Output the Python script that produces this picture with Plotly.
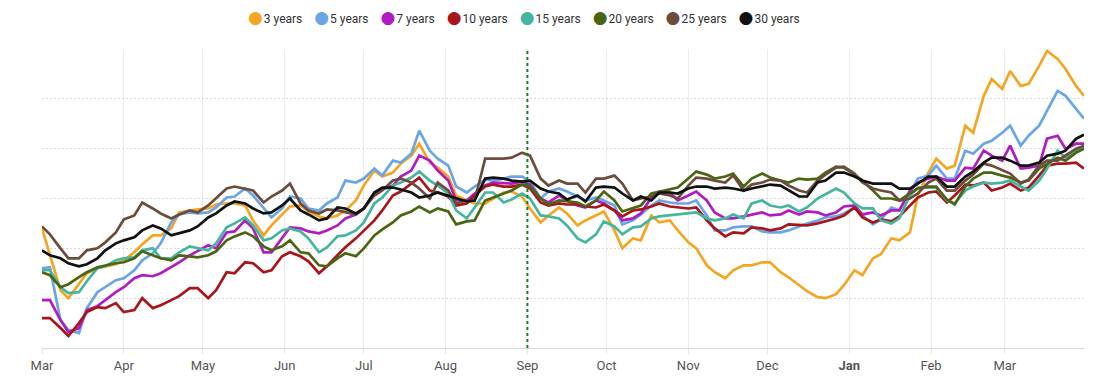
import pandas as pd
import plotly.graph_objects as go

# ---- data: readings twice a week (Mon / Thu), arbitrary yield units ----
mondays = pd.date_range("2021-03-01", periods=57, freq="7D")
dates = sorted(list(mondays) + list(mondays + pd.Timedelta(days=3)))

y3 = [2.40,1.86, 1.16,1.00, 1.30,1.50, 1.60,1.64, 1.68,1.76, 1.92,2.08, 2.26,2.26, 2.40,2.72, 2.76,2.78, 2.80,2.88,
      2.90,2.90, 2.86,2.56, 2.26,2.46, 2.68,2.84, 2.86,2.74, 2.64,2.60, 2.66,2.76, 2.96,3.26, 3.56,3.44, 3.52,3.70,
      3.86,4.10, 3.72,3.62, 3.44,3.06, 2.96,2.90, 2.90,3.00, 3.12,3.14, 3.04,2.80, 2.52,2.66, 2.82,2.70, 2.46,2.56,
      2.66,2.74, 2.36,2.00, 2.20,2.16, 2.66,2.52, 2.56,2.36, 2.12,2.00, 1.66,1.52, 1.40,1.56, 1.66,1.66, 1.72,1.72,
      1.52,1.42, 1.26,1.14, 1.02,1.00, 1.08,1.26, 1.56,1.46, 1.80,1.88, 2.20,2.16, 2.32,3.06, 3.52,3.80, 3.60,3.66,
      4.46,4.32, 5.06,5.40, 5.20,5.56, 5.26,5.30, 5.66,5.96, 5.80,5.60, 5.26,5.06]
y5 = [1.60,1.62, 0.56,0.36, 0.30,0.80, 1.12,1.22, 1.36,1.40, 1.56,1.76, 1.90,2.10, 2.52,2.68, 2.72,2.70, 2.72,2.82,
      3.02,3.04, 3.20,3.06, 2.80,2.62, 2.80,3.04, 3.00,2.80, 2.76,2.90, 3.02,3.36, 3.32,3.40, 3.60,3.46, 3.76,3.72,
      3.90,4.36, 3.96,3.80, 3.66,3.24, 3.12,3.24, 3.38,3.36, 3.40,3.44, 3.44,3.34, 3.00,3.14, 3.20,3.14, 3.04,2.96,
      3.02,2.96, 2.86,2.48, 2.56,2.68, 2.86,2.96, 2.92,2.90, 2.90,2.96, 2.66,2.36, 2.36,2.42, 2.44,2.44, 2.34,2.32,
      2.32,2.36, 2.44,2.50, 2.56,2.62, 2.64,2.70, 2.82,2.66, 2.48,2.58, 2.82,2.76, 3.12,3.40, 3.46,3.66, 3.40,3.40,
      3.96,3.90, 4.10,4.16, 4.32,4.46, 4.06,4.26, 4.46,4.76, 5.16,5.06, 4.80,4.60]
y7 = [0.96,0.96, 0.56,0.32, 0.40,0.76, 0.84,0.96, 1.12,1.22, 1.40,1.46, 1.44,1.50, 1.62,1.72, 1.86,1.94, 2.06,2.00,
      2.32,2.34, 2.56,2.40, 1.92,1.92, 2.20,2.42, 2.40,2.34, 2.30,2.36, 2.46,2.60, 2.68,2.80, 3.12,3.18, 3.26,3.44,
      3.56,3.86, 3.76,3.56, 3.36,2.96, 2.96,3.10, 3.26,3.32, 3.30,3.30, 3.34,3.28, 3.00,2.92, 3.06,2.96, 2.86,2.82,
      2.96,2.90, 2.76,2.56, 2.60,2.70, 3.02,3.14, 3.12,2.96, 3.06,3.14, 2.96,2.72, 2.60,2.60, 2.64,2.68, 2.72,2.66,
      2.68,2.76, 2.68,2.74, 2.72,2.66, 2.72,2.84, 2.86,2.68, 2.72,2.66, 2.76,2.76, 3.16,3.32, 3.40,3.44, 3.36,3.36,
      3.62,3.60, 3.96,3.86, 3.76,4.06, 3.60,3.62, 3.66,4.20, 4.26,4.00, 4.10,4.10]
y10 = [0.60,0.60, 0.40,0.24, 0.50,0.72, 0.82,0.80, 0.90,0.72, 0.76,1.00, 0.80,0.86, 0.96,1.04, 1.20,1.20, 1.00,1.16,
       1.52,1.50, 1.72,1.70, 1.52,1.56, 1.84,1.92, 1.84,1.74, 1.50,1.64, 1.86,2.02, 2.20,2.36, 2.56,2.76, 3.06,3.14,
       3.30,3.42, 3.16,3.12, 3.04,2.86, 2.90,3.06, 3.24,3.28, 3.24,3.24, 3.28,3.20, 2.92,2.86, 2.90,2.88, 2.88,2.84,
       2.82,2.88, 2.76,2.64, 2.76,2.78, 2.84,2.90, 2.84,2.82, 2.80,2.82, 2.56,2.40, 2.24,2.32, 2.30,2.42, 2.40,2.36,
       2.40,2.48, 2.46,2.46, 2.50,2.54, 2.60,2.66, 2.82,2.62, 2.52,2.58, 2.54,2.64, 2.86,3.02, 3.12,3.14, 2.92,3.06,
       3.28,3.26, 3.32,3.16, 3.22,3.30, 3.16,3.22, 3.46,3.66, 3.70,3.70, 3.72,3.60]
y15 = [1.56,1.56, 1.22,1.10, 1.12,1.34, 1.60,1.64, 1.76,1.80, 1.82,1.96, 2.00,1.80, 1.80,1.92, 2.04,2.00, 1.96,2.10,
       2.42,2.50, 2.62,2.46, 2.16,2.20, 2.36,2.40, 2.34,2.20, 1.92,2.02, 2.24,2.26, 2.36,2.52, 2.90,3.02, 3.26,3.32,
       3.42,3.54, 3.36,3.26, 3.10,2.76, 2.60,2.82, 3.12,3.12, 2.92,2.98, 3.10,3.00, 2.66,2.64, 2.60,2.46, 2.20,2.12,
       2.28,2.54, 2.44,2.28, 2.42,2.44, 2.60,2.64, 2.66,2.68, 2.70,2.72, 2.60,2.56, 2.60,2.68, 2.60,2.90, 2.96,2.86,
       2.82,2.86, 2.74,2.82, 3.00,3.08, 3.20,3.12, 2.90,2.80, 2.80,2.56, 2.50,2.60, 3.06,3.22, 3.22,3.22, 2.96,2.90,
       3.16,3.24, 3.32,3.30, 3.32,3.36, 3.24,3.16, 3.36,3.60, 3.96,3.82, 3.96,4.02]
y20 = [1.52,1.46, 1.22,1.28, 1.42,1.52, 1.62,1.66, 1.70,1.72, 1.80,1.94, 1.86,1.80, 1.76,1.86, 1.84,1.82, 1.86,1.94,
       2.16,2.24, 2.32,2.24, 2.04,1.96, 2.04,2.16, 1.92,1.90, 1.66,1.64, 1.80,1.90, 1.84,2.00, 2.26,2.38, 2.52,2.66,
       2.74,2.84, 2.72,2.80, 2.74,2.48, 2.54,2.56, 2.96,3.02, 3.10,3.16, 3.28,3.24, 3.00,2.88, 2.96,2.94, 2.92,2.84,
       2.96,3.14, 2.96,2.74, 2.80,2.86, 3.10,3.14, 3.18,3.22, 3.40,3.54, 3.48,3.40, 3.44,3.50, 3.24,3.40, 3.50,3.42,
       3.36,3.32, 3.40,3.38, 3.40,3.52, 3.64,3.62, 3.48,3.36, 3.16,3.00, 3.00,2.96, 3.10,3.20, 3.24,3.24, 2.98,2.88,
       3.24,3.40, 3.52,3.52, 3.46,3.42, 3.32,3.36, 3.60,3.70, 3.82,3.76, 3.92,4.00]
y25 = [2.44,2.28, 2.00,1.80, 1.80,1.96, 2.00,2.12, 2.32,2.58, 2.66,2.92, 2.80,2.70, 2.60,2.68, 2.76,2.72, 2.86,3.00,
       3.20,3.24, 3.20,3.16, 2.92,3.04, 3.16,3.30, 2.90,2.76, 2.70,2.78, 2.76,2.72, 2.68,2.80, 3.06,3.16, 3.36,3.40,
       3.32,3.20, 3.00,3.32, 3.16,2.90, 2.96,2.96, 3.80,3.80, 3.80,3.82, 3.92,3.86, 3.40,3.26, 3.36,3.30, 3.30,3.12,
       3.40,3.40, 3.46,3.30, 2.96,3.00, 3.04,3.10, 3.06,3.00, 3.26,3.42, 3.40,3.36, 3.32,3.46, 3.16,3.28, 3.32,3.38,
       3.36,3.26, 3.16,3.12, 3.36,3.48, 3.62,3.64, 3.50,3.32, 3.20,3.16, 3.12,2.96, 3.00,3.10, 3.32,3.40, 3.16,3.16,
       3.36,3.48, 3.70,3.66, 3.56,3.50, 3.30,3.38, 3.66,3.76, 3.76,3.86, 4.00,4.06]
y30 = [1.96,1.86, 1.80,1.70, 1.64,1.68, 1.80,1.96, 2.10,2.16, 2.22,2.36, 2.46,2.40, 2.26,2.30, 2.36,2.44, 2.62,2.70,
       2.86,2.94, 2.90,2.80, 2.70,2.72, 2.86,3.00, 2.76,2.68, 2.56,2.60, 2.82,2.80, 2.70,2.80, 3.12,3.22, 3.22,3.18,
       3.12,3.02, 3.06,3.12, 3.06,3.00, 2.94,2.96, 3.40,3.42, 3.40,3.36, 3.34,3.36, 3.20,3.14, 3.10,2.98, 3.06,2.94,
       3.22,3.24, 3.22,3.10, 2.96,3.04, 2.96,3.12, 3.12,3.10, 3.20,3.24, 3.24,3.20, 3.22,3.20, 3.16,3.20, 3.24,3.28,
       3.26,3.16, 3.04,3.04, 3.32,3.36, 3.52,3.52, 3.44,3.36, 3.30,3.30, 3.30,3.20, 3.20,3.30, 3.44,3.44, 3.24,3.24,
       3.44,3.54, 3.72,3.82, 3.82,3.76, 3.66,3.66, 3.72,3.86, 3.90,3.96, 4.20,4.28]

series_names = ["3 years", "5 years", "7 years", "10 years", "15 years", "20 years", "25 years", "30 years"]
series_values = [y3, y5, y7, y10, y15, y20, y25, y30]
colors = ["#F4A623", "#6AA6E4", "#B01CC0", "#A8151B", "#45B5A0", "#4A6612", "#6D4C3D", "#111111"]

month_ticks = ["2021-03-01", "2021-04-01", "2021-05-01", "2021-06-01", "2021-07-01", "2021-08-01",
               "2021-09-01", "2021-10-01", "2021-11-01", "2021-12-01", "2022-01-01", "2022-02-01",
               "2022-03-01"]
month_labels = ["Mar", "Apr", "May", "Jun", "Jul", "Aug", "Sep", "Oct", "Nov", "Dec", "<b>Jan</b>", "Feb", "Mar"]
marker_date = "2021-09-01"
x_range = ["2021-03-01", "2022-03-31"]

fig = go.Figure()
for name, vals, col in zip(series_names, series_values, colors):
    n = min(len(dates), len(vals))
    fig.add_trace(go.Scatter(x=dates[:n], y=vals[:n], mode="lines", name=name,
                             line=dict(color=col, width=2.7), showlegend=False))

fig.add_shape(type="line", xref="x", yref="paper", x0=marker_date, x1=marker_date, y0=0, y1=1,
              line=dict(color="#14801E", width=2, dash="3px,3px"))

# legend row (circle symbols + names), above the plot
gap = "&nbsp;&nbsp;&nbsp;&nbsp;"
legend_text = gap.join(
    f"<span style='color:{c};font-family:DejaVu Sans;font-size:17px'>●</span>"
    f"<span style='font-size:4px'>&nbsp;</span>{n}"
    for n, c in zip(series_names, colors))
fig.add_annotation(text=legend_text, xref="paper", yref="paper", x=0.196, y=1.107,
                   xanchor="left", yanchor="middle", showarrow=False,
                   font=dict(family="Roboto, Arial, sans-serif", size=12, color="#333333"))

fig.update_layout(
    width=1090, height=380,
    margin=dict(l=34, r=14, t=41, b=40, autoexpand=False),
    paper_bgcolor="white", plot_bgcolor="white",
    font=dict(family="Roboto, Arial, sans-serif", size=12, color="#333333"),
    showlegend=False,
)
fig.update_xaxes(range=x_range, type="date", tickvals=month_ticks, ticktext=month_labels,
                 showgrid=True, gridcolor="#ebebeb", gridwidth=1,
                 showline=True, linecolor="#d8d8d8", linewidth=1,
                 ticks="outside", ticklen=5, tickcolor="#e6e6e6",
                 tickfont=dict(size=13, color="#555555"), zeroline=False)
fig.update_yaxes(range=[0, 6], dtick=1, showticklabels=False, showgrid=True,
                 gridcolor="#d9d9d9", griddash="2px,2px", gridwidth=1, zeroline=False, showline=False)

fig.write_html("out.html")
